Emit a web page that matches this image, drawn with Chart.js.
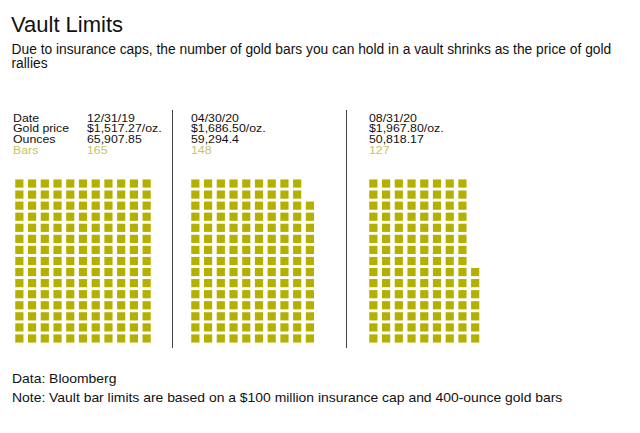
<!DOCTYPE html>
<html>
<head>
<meta charset="utf-8">
<script src="https://cdn.jsdelivr.net/npm/chart.js@4"></script>
<style>
  body { margin: 0; background: #fff; font-family: "Liberation Sans", Arial, sans-serif; color: #111; }
  #page { position: relative; width: 640px; height: 433px; overflow: hidden; }
  .abs { position: absolute; white-space: nowrap; }
  #title { left: 11px; top: 13.7px; font-size: 22px; line-height: 22px; }
  #subtitle { left: 11.5px; top: 42.6px; font-size: 13.8px; line-height: 14.5px; }
  .info { font-size: 11.5px; line-height: 10.9px; transform: scaleX(1.07); transform-origin: 0 0; }
  .bars { color: #c9c45c; }
  .sep { position: absolute; width: 1px; background: #444; top: 110px; height: 238px; }
  canvas.panel { position: absolute; top: 177.5px; }
  #source { left: 11.5px; top: 369.3px; font-size: 13px; line-height: 19px; transform: scaleX(1.07); transform-origin: 0 0; }
</style>
</head>
<body>
<div id="page">
  <div id="title" class="abs">Vault Limits</div>
  <div id="subtitle" class="abs">Due to insurance caps, the number of gold bars you can hold in a vault shrinks as the price of gold<br>rallies</div>

  <div class="abs info" style="left:12.5px; top:112.5px;">Date<br>Gold price<br>Ounces<br><span class="bars">Bars</span></div>
  <div class="abs info" id="info0" style="left:87px; top:112.5px;"></div>
  <div class="abs info" id="info1" style="left:190.5px; top:112.5px;"></div>
  <div class="abs info" id="info2" style="left:368.5px; top:112.5px;"></div>

  <div class="sep" style="left:171.5px;"></div>
  <div class="sep" style="left:346px;"></div>

  <canvas class="panel" id="vault0" width="140" height="166" style="left:12.8px;"></canvas>
  <canvas class="panel" id="vault1" width="140" height="166" style="left:188.6px;"></canvas>
  <canvas class="panel" id="vault2" width="140" height="166" style="left:366.8px;"></canvas>

  <div id="source" class="abs">Data: Bloomberg<br>Note: Vault bar limits are based on a $100 million insurance cap and 400-ounce gold bars</div>
</div>

<script>
'use strict';

const dates = ['12/31/19', '04/30/20', '08/31/20'];
const goldPrices = ['$1,517.27/oz.', '$1,686.50/oz.', '$1,967.80/oz.'];
const ounces = ['65,907.85', '59,294.4', '50,818.17'];
const bars = [165, 148, 127];
const barsPerColumn = 15;
const maxColumns = 11;

const gold = '#b5b000';

// header text for each vault
dates.forEach((d, i) => {
  document.getElementById('info' + i).innerHTML =
    d + '<br>' + goldPrices[i] + '<br>' + ounces[i] + '<br><span class="bars">' + bars[i] + '</span>';
});

// one square per bar, stacked bottom-up column by column
function cells(count) {
  const pts = [];
  for (let i = 0; i < count; i++) {
    pts.push({ x: Math.floor(i / barsPerColumn), y: i % barsPerColumn });
  }
  return pts;
}

bars.forEach((count, i) => {
  const ctx = document.getElementById('vault' + i).getContext('2d');
  new Chart(ctx, {
    type: 'scatter',
    data: {
      datasets: [
        {
          data: cells(count),
          pointStyle: 'rect',
          pointRadius: 5.8,
          pointHoverRadius: 5.8,
          borderWidth: 0,
          backgroundColor: gold,
          borderColor: gold,
        },
      ],
    },
    options: {
      responsive: false,
      animation: false,
      events: [],
      clip: false,
      layout: { padding: 0, autoPadding: false },
      plugins: {
        legend: { display: false },
        tooltip: { enabled: false },
      },
      scales: {
        x: { type: 'linear', min: -0.5, max: maxColumns - 0.5, display: false },
        y: { type: 'linear', min: -0.5, max: barsPerColumn - 0.5, display: false },
      },
    },
  });
});
</script>
</body>
</html>
